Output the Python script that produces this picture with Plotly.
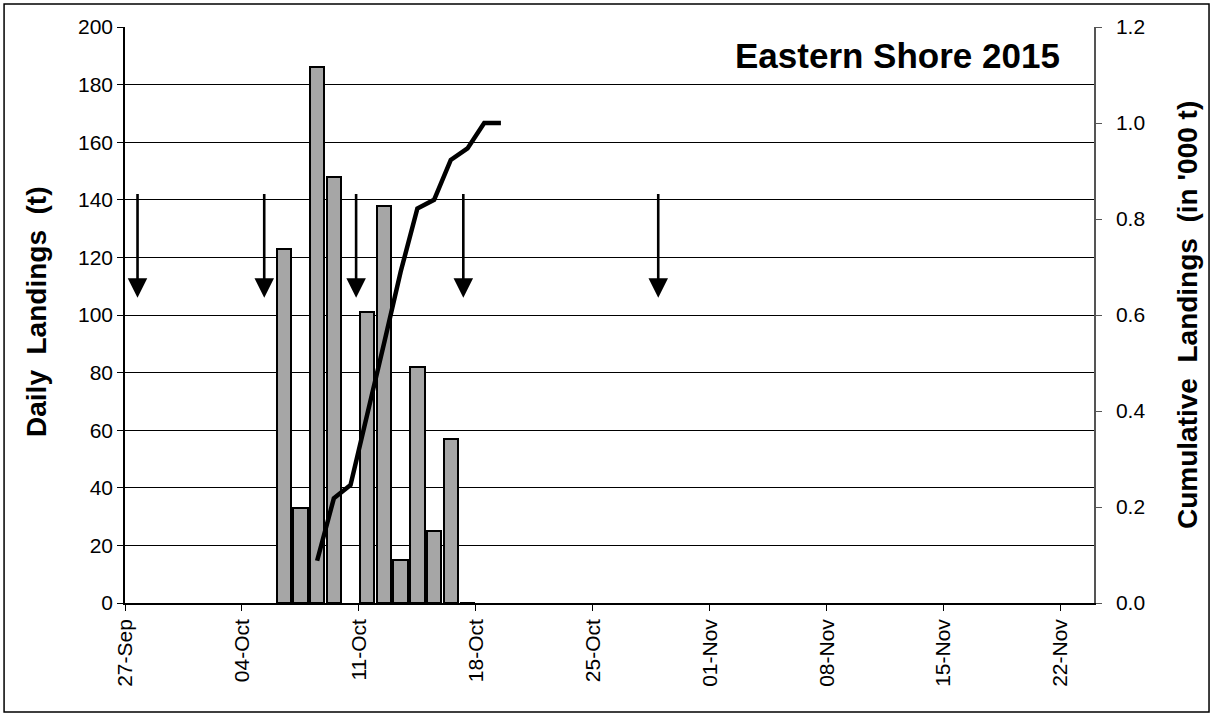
import plotly.graph_objs as go

# daily landings (t), one bar per day
bar_dates = ['2015-10-06', '2015-10-07', '2015-10-08', '2015-10-09', '2015-10-10',
             '2015-10-11', '2015-10-12', '2015-10-13', '2015-10-14', '2015-10-15',
             '2015-10-16', '2015-10-17']
daily = [123, 33, 186, 148, None, 101, 138, 15, 82, 25, 57, 0]

# cumulative landings ('000 t)
cum_dates = ['2015-10-08', '2015-10-09', '2015-10-10', '2015-10-11', '2015-10-12',
             '2015-10-13', '2015-10-14', '2015-10-15', '2015-10-16', '2015-10-17',
             '2015-10-18', '2015-10-19']
cumulative = [0.088, 0.218, 0.246, 0.39, 0.54, 0.69, 0.822, 0.84, 0.923, 0.947, 1.0, 1.0]

# arrows (tail at 142.5 t, head at 106 t)
arrow_dates = ['2015-09-27 18:00', '2015-10-05 08:00', '2015-10-10 20:00',
               '2015-10-17 06:00', '2015-10-28 22:00']
arrow_top = 142.5
arrow_tip = 106

tick_dates = ['2015-09-27', '2015-10-04', '2015-10-11', '2015-10-18', '2015-10-25',
              '2015-11-01', '2015-11-08', '2015-11-15', '2015-11-22']

DAY = 86400000
font = 'Liberation Sans, Arial, sans-serif'

data = [
    go.Bar(
        x=bar_dates, y=daily,
        xperiod=DAY, xperiodalignment='middle',
        width=DAY * 0.86,
        marker=dict(color='#a6a6a6', line=dict(color='black', width=2)),
        showlegend=False
    ),
    go.Scatter(
        x=cum_dates, y=cumulative, yaxis='y2',
        xperiod=DAY, xperiodalignment='middle',
        mode='lines', line=dict(color='black', width=4.5),
        showlegend=False
    )
]

annotations = []
for d in arrow_dates:
    annotations.append(dict(
        x=d, y=arrow_tip, ax=d, ay=arrow_top, axref='x', ayref='y',
        xref='x', yref='y', text='', showarrow=True,
        arrowhead=2, arrowsize=1.5, arrowwidth=2.6, arrowcolor='black'
    ))

annotations += [
    dict(text='<b>Eastern Shore 2015</b>', xref='paper', yref='paper',
         x=0.967, y=0.951, xanchor='right', yanchor='middle', showarrow=False,
         font=dict(family=font, size=35, color='black')),
    dict(text='<b>Daily  Landings  (t)</b>', xref='paper', yref='paper',
         x=-0.092, y=0.505, xanchor='center', yanchor='middle',
         textangle=-90, showarrow=False,
         font=dict(family=font, size=28, color='black')),
    dict(text="<b>Cumulative  Landings  (in '000 t)</b>", xref='paper', yref='paper',
         x=1.096, y=0.5, xanchor='center', yanchor='middle',
         textangle=-90, showarrow=False,
         font=dict(family=font, size=28, color='black')),
]

tickfont = dict(family=font, size=21, color='black')

layout = go.Layout(
    width=1214, height=717,
    margin=dict(l=125, r=120, t=27, b=114),
    paper_bgcolor='white', plot_bgcolor='white',
    font=dict(family=font, size=21, color='black'),
    bargap=0,
    xaxis=dict(
        type='date', range=['2015-09-27', '2015-11-24'],
        tickvals=tick_dates, tickformat='%d-%b', tickangle=-90, tickfont=tickfont,
        ticks='outside', ticklen=6, tickcolor='black',
        showline=True, linecolor='black', linewidth=1.5,
        showgrid=False, zeroline=False
    ),
    yaxis=dict(
        range=[0, 200], dtick=20, tickfont=tickfont,
        ticks='outside', ticklen=6, tickcolor='black',
        showline=True, linecolor='black', linewidth=1.5,
        showgrid=True, gridcolor='black', gridwidth=1, zeroline=False
    ),
    yaxis2=dict(
        range=[0, 1.2], dtick=0.2, tickformat='.1f', tickfont=tickfont,
        overlaying='y', side='right', ticklabelstandoff=10,
        ticks='outside', ticklen=6, tickcolor='#555555',
        showline=True, linecolor='#555555', linewidth=1.5,
        showgrid=False, zeroline=False
    ),
    annotations=annotations,
    shapes=[dict(type='rect', xref='paper', yref='paper',
                 x0=-0.1248, x1=1.1187, y0=-0.1892, y1=1.0398,
                 line=dict(color='black', width=1.5))]
)

fig = go.Figure(data=data, layout=layout)
fig.write_html('out.html', config={'displayModeBar': False},
               post_script="document.body.style.margin='0px';")
